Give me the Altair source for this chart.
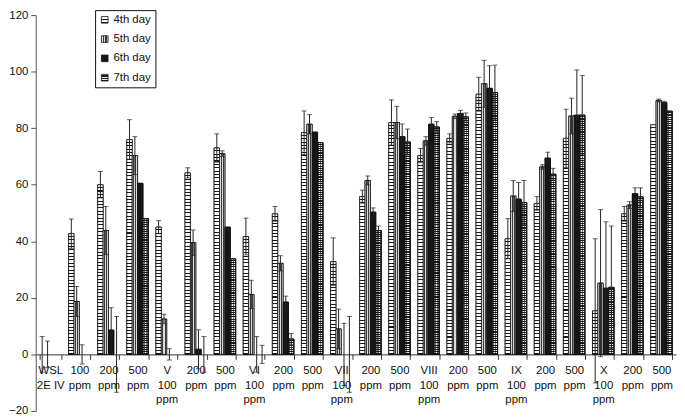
import altair as alt

FONT = "Liberation Sans, Arial, Helvetica, sans-serif"

SERIES = ["4th day", "5th day", "6th day", "7th day"]

CAT_KEYS = [
    "WSL 2E IV",
    "IV 100 ppm", "IV 200 ppm", "IV 500 ppm",
    "V 100 ppm", "V 200 ppm", "V 500 ppm",
    "VI 100 ppm", "VI 200 ppm", "VI 500 ppm",
    "VII 100 ppm", "VII 200 ppm", "VII 500 ppm",
    "VIII 100 ppm", "VIII 200 ppm", "VIII 500 ppm",
    "IX 100 ppm", "IX 200 ppm", "IX 500 ppm",
    "X 100 ppm", "X 200 ppm", "X 500 ppm",
]

TICK_LABELS = [
    ["WSL", "2E IV"],
    ["100", "ppm"], ["200", "ppm"], ["500", "ppm"],
    ["V", "100", "ppm"], ["200", "ppm"], ["500", "ppm"],
    ["VI", "100", "ppm"], ["200", "ppm"], ["500", "ppm"],
    ["VII", "100", "ppm"], ["200", "ppm"], ["500", "ppm"],
    ["VIII", "100", "ppm"], ["200", "ppm"], ["500", "ppm"],
    ["IX", "100", "ppm"], ["200", "ppm"], ["500", "ppm"],
    ["X", "100", "ppm"], ["200", "ppm"], ["500", "ppm"],
]

DAY4 = [0, 42.7, 60.0, 76.0, 45.0, 64.2, 73.0, 41.7, 49.7, 78.4, 32.8, 55.8, 82.0, 70.3, 76.4, 92.0, 40.9, 53.4, 76.4, 15.4, 49.7, 81.2]
DAY5 = [0, 18.7, 43.8, 70.3, 12.5, 39.5, 71.0, 21.2, 32.2, 81.4, 9.0, 61.5, 82.0, 75.5, 84.2, 95.7, 56.0, 66.3, 84.3, 25.2, 52.8, 89.8]
DAY6 = [0, 0, 8.6, 60.5, 0, 1.8, 45.0, 0, 18.5, 78.6, 0, 50.3, 77.0, 81.4, 85.2, 94.1, 54.9, 69.4, 84.6, 23.4, 56.8, 89.0]
DAY7 = [0, 0, 0, 48.0, 0, 0, 33.8, 0, 5.4, 74.9, 0, 43.8, 75.1, 80.4, 84.0, 92.6, 53.7, 63.7, 84.6, 23.7, 55.7, 86.0]

ERR4 = [6.3, 5.2, 4.7, 7.0, 2.3, 1.8, 5.0, 6.5, 2.6, 7.7, 8.4, 2.3, 8.0, 2.5, 1.6, 6.0, 7.1, 2.4, 10.3, 25.5, 2.6, 0]
ERR5 = [4.7, 5.3, 8.5, 6.7, 1.7, 4.5, 1.0, 5.0, 2.7, 3.4, 7.0, 1.6, 5.7, 1.5, 0.8, 8.3, 5.5, 0.8, 6.3, 26.0, 1.2, 0.5]
ERR6 = [0, 3.4, 7.9, 0, 2.0, 6.9, 0, 6.3, 2.1, 0, 11.0, 1.5, 4.5, 2.4, 1.1, 8.0, 5.9, 2.1, 16.0, 23.5, 2.1, 0.5]
ERR7 = [0, 0, 13.4, 0, 0, 6.3, 0, 3.2, 2.0, 0, 13.4, 1.6, 4.6, 1.9, 1.4, 9.7, 7.8, 2.1, 14.0, 21.7, 3.2, 0]

Y_MIN, Y_MAX = -20, 120
W, H = 647, 400
PX = H / (Y_MAX - Y_MIN)


def stripes(n, frac, bg, fg, vertical=True):
    stops = []
    n = max(1, n)
    for i in range(n):
        a = i / n
        b = (i + 1 - frac) / n
        c = (i + 1) / n
        stops += [{"offset": a, "color": bg}, {"offset": b, "color": bg},
                  {"offset": b, "color": fg}, {"offset": c, "color": fg}]
    return {"gradient": "linear", "x1": 0, "y1": 0,
            "x2": 0 if vertical else 1, "y2": 1 if vertical else 0, "stops": stops}


GRAD5 = {"gradient": "linear", "x1": 0, "y1": 0, "x2": 1, "y2": 0, "stops": [
    {"offset": 0, "color": "#dcdcdc"}, {"offset": 0.2, "color": "#dcdcdc"},
    {"offset": 0.2, "color": "#3a3a3a"}, {"offset": 0.4, "color": "#3a3a3a"},
    {"offset": 0.4, "color": "#dcdcdc"}, {"offset": 0.6, "color": "#dcdcdc"},
    {"offset": 0.6, "color": "#3a3a3a"}, {"offset": 0.8, "color": "#3a3a3a"},
    {"offset": 0.8, "color": "#dcdcdc"}, {"offset": 1, "color": "#dcdcdc"}]}

# column overlay that turns the 7th-day row stripes into a check texture
CHECK_OVERLAY = stripes(3, 0.5, "rgba(0,0,0,0)", "rgba(20,20,20,0.6)", vertical=False)


def fill_for(series, v):
    h = v * PX
    if series == "4th day":
        return stripes(round(h / 3.4), 0.3, "#ffffff", "#1a1a1a")
    if series == "5th day":
        return GRAD5
    if series == "6th day":
        return "#161616"
    return stripes(round(h / 2.2), 0.5, "#f2f2f2", "#1e1e1e")


def js(o):
    if isinstance(o, dict):
        return "{" + ",".join(f"{k}:{js(v)}" for k, v in o.items()) + "}"
    if isinstance(o, list):
        return "[" + ",".join(js(v) for v in o) + "]"
    if isinstance(o, str):
        return "'" + o + "'"
    return repr(o)


records = []
for s, vals, errs in zip(SERIES, [DAY4, DAY5, DAY6, DAY7], [ERR4, ERR5, ERR6, ERR7]):
    for c, v, e in zip(CAT_KEYS, vals, errs):
        records.append({"cat": c, "series": s, "v": v, "e": e,
                        "grad": fill_for(s, v), "over": CHECK_OVERLAY})

LEGEND_FILLS = [
    {"expr": js(stripes(2, 0.3, "#ffffff", "#1a1a1a"))},
    {"expr": js(GRAD5)},
    "#161616",
    {"expr": js(stripes(3, 0.5, "#eeeeee", "#1e1e1e"))},
]

label_expr = f"{js(TICK_LABELS)}[indexof({js(CAT_KEYS)}, datum.value)]"

x_enc = alt.X(
    "cat:N", sort=CAT_KEYS,
    scale=alt.Scale(domain=CAT_KEYS, paddingInner=0.26, paddingOuter=0.13),
    axis=alt.Axis(
        title=None, orient="bottom", offset=-(0 - Y_MIN) * PX, tickBand="extent",
        tickSize=5, tickColor="#333", domainColor="#333", tickWidth=1, domainWidth=1,
        labelExpr=label_expr, labelFontSize=11.5, labelFont=FONT, labelColor="#111",
        labelPadding=5, labelLineHeight=15, labelBaseline="top", labelAngle=0,
        labelOverlap=False, labelBound=False, labelFlush=False,
    ),
)
xo_enc = alt.XOffset("series:N", sort=SERIES,
                     scale=alt.Scale(domain=SERIES, paddingInner=0, paddingOuter=0))
y_scale = alt.Scale(domain=[Y_MIN, Y_MAX], nice=False, zero=False)
y_enc = alt.Y(
    "v:Q", scale=y_scale, stack=None, title=None,
    axis=alt.Axis(
        title=None, values=list(range(Y_MIN, Y_MAX + 1, 20)), grid=False,
        tickSize=5, tickColor="#555", domainColor="#555", labelPadding=3,
        labelFontSize=11.5, labelFont=FONT, labelColor="#111",
    ),
)

base = alt.Chart(alt.Data(values=records))

legend_bars = base.transform_filter("datum.v > 0").mark_bar(
    stroke="#111", strokeWidth=0.8
).encode(
    x=x_enc, xOffset=xo_enc, y=y_enc,
    color=alt.Color(
        "series:N", sort=SERIES,
        scale=alt.Scale(domain=SERIES, range=LEGEND_FILLS),
        legend=alt.Legend(
            title=None, orient="none", legendX=60, legendY=-5,
            symbolType="square", symbolSize=45, symbolStrokeColor="#111",
            symbolStrokeWidth=0.8, labelFontSize=11.5, labelFont=FONT, labelColor="#111",
            padding=4, strokeColor="#111", fillColor="white", rowPadding=6.5, labelOffset=3,
        ),
    ),
)

pattern_bars = base.transform_filter("datum.v > 0").mark_bar(
    stroke="#111", strokeWidth=0.8
).encode(
    x=x_enc, xOffset=xo_enc, y=y_enc,
    fill=alt.Fill("grad:N", scale=None, legend=None),
)

check_bars = base.transform_filter("datum.v > 0 && datum.series == '7th day'").mark_bar(
    stroke="#111", strokeWidth=0.8
).encode(
    x=x_enc, xOffset=xo_enc, y=y_enc,
    fill=alt.Fill("over:N", scale=None, legend=None),
)

errs = base.transform_filter("datum.e > 0").transform_calculate(
    lo="datum.v - datum.e", hi="datum.v + datum.e"
)
err_rule = errs.mark_rule(color="#222", strokeWidth=1).encode(
    x=x_enc, xOffset=xo_enc, y=alt.Y("lo:Q", scale=y_scale, title=None), y2="hi:Q"
)
cap_hi = errs.mark_tick(color="#222", thickness=1, size=5).encode(
    x=x_enc, xOffset=xo_enc, y=alt.Y("hi:Q", scale=y_scale, title=None)
)
cap_lo = errs.mark_tick(color="#222", thickness=1, size=5).encode(
    x=x_enc, xOffset=xo_enc, y=alt.Y("lo:Q", scale=y_scale, title=None)
)

chart = alt.layer(legend_bars, pattern_bars, check_bars, err_rule, cap_hi, cap_lo).properties(
    width=W, height=H,
    padding={"left": 28, "top": 5, "right": 1, "bottom": 6},
    autosize=alt.AutoSizeParams(type="none"),
    background="white",
).configure_view(stroke=None)

chart.save("out.html", embed_options={"renderer": "svg", "actions": False})
